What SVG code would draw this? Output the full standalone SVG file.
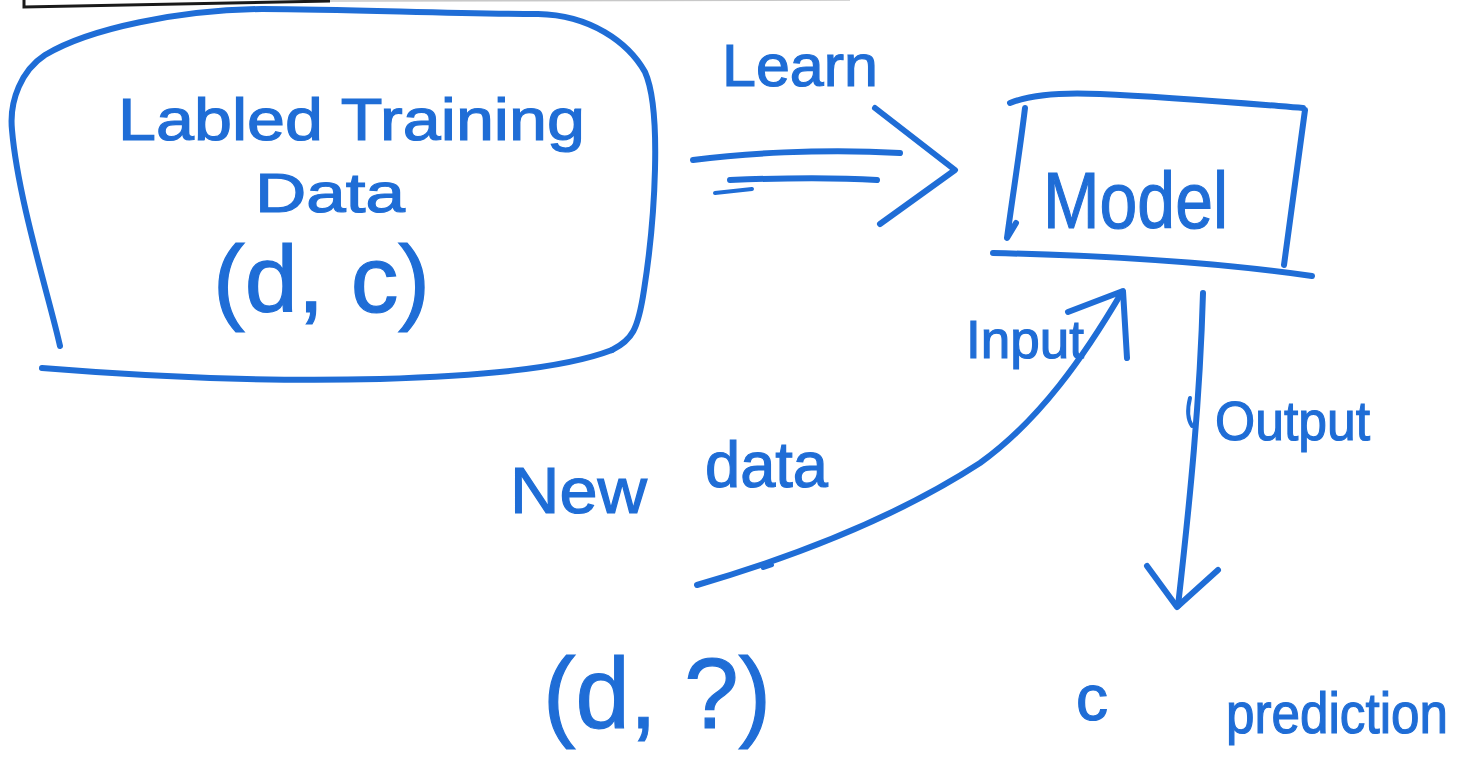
<svg xmlns="http://www.w3.org/2000/svg" width="1476" height="757" viewBox="0 0 1476 757">
<style>
.ink{fill:none;stroke:#1f6dd6;stroke-width:6;stroke-linecap:round;stroke-linejoin:round}
.thin{stroke-width:4}
.t{font-family:"Liberation Sans",Arial,sans-serif;fill:#1f6dd6;stroke:#1f6dd6;stroke-width:1.2}
</style>
<rect width="1476" height="757" fill="#ffffff"/>
<g id="frame-edge">
<path d="M24,0 V7 L330,1" fill="none" stroke="#1a1a1a" stroke-width="3"/>
<path d="M330,1 L850,0" fill="none" stroke="#c8c8c8" stroke-width="1.5"/>
</g>
<g id="node-training">
<path class="ink" d="M60,346 C50,300 18,200 12,130 C9,100 22,70 45,55 C90,28 180,10 262,9 C350,9 450,14 538,14 C590,15 628,42 645,72 C662,110 655,220 644,290 C638,330 632,340 612,350"/>
<path class="ink" d="M42,368 C140,376 260,382 380,379 C470,376 560,370 612,350"/>
<text class="t" x="118" y="140" font-size="60" textLength="467" lengthAdjust="spacingAndGlyphs">Labled Training</text>
<text class="t" x="255" y="212" font-size="56" textLength="150" lengthAdjust="spacingAndGlyphs">Data</text>
<text class="t" x="213" y="312" font-size="94" textLength="217" lengthAdjust="spacingAndGlyphs">(d, c)</text>
</g>
<g id="node-model">
<path class="ink" d="M1010,103 C1030,95 1060,92 1100,94 C1170,97 1240,103 1303,108"/>
<path class="ink" d="M1305,110 L1284,265"/>
<path class="ink" d="M1025,108 C1020,150 1012,200 1007,238 L1016,223"/>
<path class="ink" d="M993,253 C1080,255 1200,260 1312,276"/>
<text class="t" x="1043" y="228" font-size="80" textLength="185" lengthAdjust="spacingAndGlyphs">Model</text>
</g>
<g id="node-newdata">
<text class="t" font-size="64"><tspan x="510" y="513" textLength="137" lengthAdjust="spacingAndGlyphs">New</tspan><tspan x="705" y="487" textLength="123" lengthAdjust="spacingAndGlyphs">data</tspan></text>
<text class="t" x="543" y="728" font-size="100" textLength="228" lengthAdjust="spacingAndGlyphs">(d, ?)</text>
</g>
<g id="node-prediction">
<text class="t" x="1076" y="720" font-size="64">c</text>
<text class="t" x="1226" y="733" font-size="58" textLength="222" lengthAdjust="spacingAndGlyphs">prediction</text>
</g>
<g id="connectors">
<g id="edge-learn">
<path class="ink" d="M693,160 C740,154 820,148 900,153"/>
<path class="ink" d="M730,180 C780,178 830,177 877,180"/>
<path class="ink thin" d="M715,193 L752,189"/>
<path class="ink" d="M875,108 L955,170 L880,224"/>
</g>
<g id="edge-input">
<path class="ink" d="M697,585 C800,555 900,515 980,463 C1040,420 1085,355 1122,292"/>
<path class="ink" d="M1068,312 L1123,291 L1127,358"/>
<path class="ink thin" d="M763,568 L772,565"/>
</g>
<g id="edge-output">
<path class="ink" d="M1203,293 C1200,400 1190,500 1178,606"/>
<path class="ink thin" d="M1190,398 C1187,410 1188,420 1192,426"/>
<path class="ink" d="M1147,566 L1177,607 L1218,570"/>
</g>
</g>
<g id="labels">
<text class="t" x="722" y="86" font-size="60" textLength="156" lengthAdjust="spacingAndGlyphs">Learn</text>
<text class="t" x="966" y="358" font-size="54" textLength="118" lengthAdjust="spacingAndGlyphs">Input</text>
<text class="t" x="1215" y="440" font-size="56" textLength="155" lengthAdjust="spacingAndGlyphs">Output</text>
</g>
</svg>
